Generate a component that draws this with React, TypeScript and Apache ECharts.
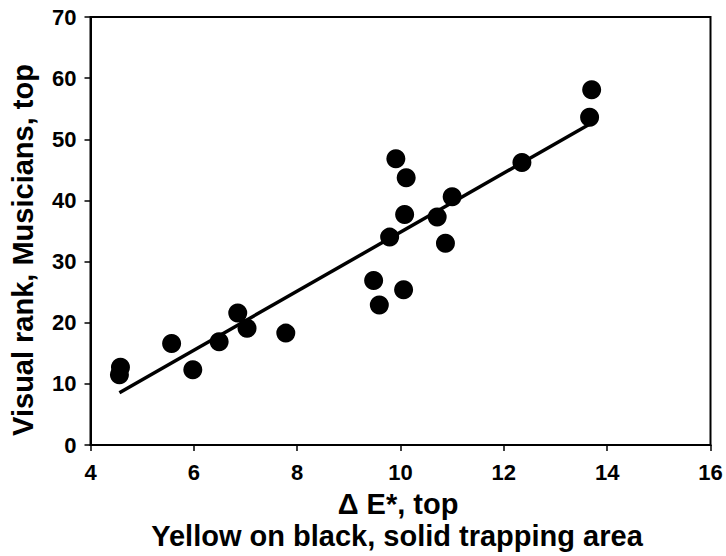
import React, { useEffect, useRef } from "react";
import * as echarts from "echarts";

const deltaE = [4.58, 4.56, 5.57, 5.98, 6.49, 6.85, 7.03, 7.78, 9.48, 9.59, 9.79, 9.91, 10.11, 10.08, 10.06, 10.71, 10.87, 11.0, 12.35, 13.66, 13.7];
const visualRank = [12.7, 11.5, 16.6, 12.3, 16.9, 21.6, 19.1, 18.3, 26.9, 22.9, 34.0, 46.8, 43.7, 37.7, 25.4, 37.3, 33.0, 40.6, 46.2, 53.6, 58.1];

const xTitle = "Δ E*, top";
const xSubtitle = "Yellow on black, solid trapping area";
const yTitle = "Visual rank, Musicians, top";

function fit(xs: number[], ys: number[]) {
  const n = xs.length;
  const mx = xs.reduce((a, b) => a + b, 0) / n;
  const my = ys.reduce((a, b) => a + b, 0) / n;
  let sxy = 0, sxx = 0;
  for (let i = 0; i < n; i++) {
    sxy += (xs[i] - mx) * (ys[i] - my);
    sxx += (xs[i] - mx) * (xs[i] - mx);
  }
  const slope = sxy / sxx;
  const icpt = my - slope * mx;
  const x0 = Math.min(...xs);
  const x1 = Math.max(...xs);
  return [[x0, icpt + slope * x0], [x1, icpt + slope * x1]];
}

export default function App() {
  const ref = useRef<HTMLDivElement>(null);
  useEffect(() => {
    if (!ref.current) return;
    const chart = echarts.init(ref.current, null, { renderer: "svg" });
    const font = "'Liberation Sans', Arial, Helvetica, sans-serif";
    const points = deltaE.map((x, i) => [x, visualRank[i]]);
    const titleStyle = {
      fill: "#000",
      fontFamily: font,
      fontWeight: "bold",
      align: "center",
      verticalAlign: "middle",
    };
    chart.setOption({
      animation: false,
      backgroundColor: "#ffffff",
      grid: {
        left: 90.5,
        right: 15.5,
        top: 17,
        bottom: 111,
        show: true,
        borderColor: "#000",
        borderWidth: 2,
        backgroundColor: "transparent",
      },
      graphic: [
        {
          type: "text",
          x: 23,
          y: 250,
          rotation: Math.PI / 2,
          style: { ...titleStyle, text: yTitle, fontSize: 29 },
        },
        {
          type: "text",
          x: 398,
          y: 504,
          style: { ...titleStyle, text: xTitle, fontSize: 29 },
        },
        {
          type: "text",
          x: 397,
          y: 536,
          style: { ...titleStyle, text: xSubtitle, fontSize: 29 },
        },
      ],
      xAxis: {
        type: "value",
        min: 4,
        max: 16,
        interval: 2,
        splitLine: { show: false },
        axisLine: { show: true, lineStyle: { color: "#000", width: 2 } },
        axisTick: { show: true, inside: false, length: 6, lineStyle: { color: "#000", width: 1.5 } },
        axisLabel: { color: "#000", fontFamily: font, fontWeight: "bold", fontSize: 22, margin: 16 },
      },
      yAxis: {
        type: "value",
        min: 0,
        max: 70,
        interval: 10,
        splitLine: { show: false },
        axisLine: { show: true, lineStyle: { color: "#000", width: 2 } },
        axisTick: { show: true, inside: false, length: 6, lineStyle: { color: "#000", width: 1.5 } },
        axisLabel: { color: "#000", fontFamily: font, fontWeight: "bold", fontSize: 22, margin: 14 },
      },
      series: [
        {
          type: "line",
          data: fit(deltaE, visualRank),
          showSymbol: false,
          symbol: "none",
          lineStyle: { color: "#000", width: 3.5 },
          z: 2,
        },
        {
          type: "scatter",
          data: points,
          symbol: "circle",
          symbolSize: 19,
          itemStyle: { color: "#000", opacity: 1 },
          z: 3,
        },
      ],
    });
    return () => chart.dispose();
  }, []);
  return <div ref={ref} style={{ position: "fixed", left: 0, top: 0, width: 726, height: 556 }} />;
}
